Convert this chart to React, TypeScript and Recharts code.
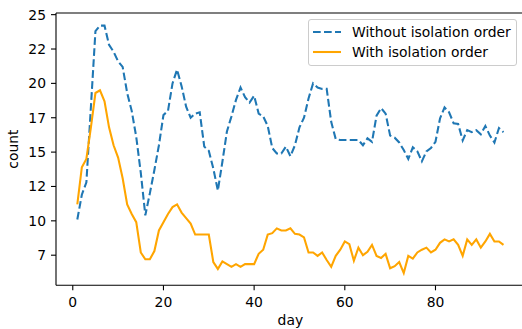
import React from 'react';
import { LineChart, Line, XAxis, YAxis, Legend, Label, ReferenceLine } from 'recharts';

const days = [
  1, 2, 3, 4, 5, 6, 7, 8, 9, 10, 11, 12, 13, 14, 15, 16, 17, 18, 19, 20,
  21, 22, 23, 24, 25, 26, 27, 28, 29, 30, 31, 32, 33, 34, 35, 36, 37, 38, 39, 40,
  41, 42, 43, 44, 45, 46, 47, 48, 49, 50, 51, 52, 53, 54, 55, 56, 57, 58, 59, 60,
  61, 62, 63, 64, 65, 66, 67, 68, 69, 70, 71, 72, 73, 74, 75, 76, 77, 78, 79, 80,
  81, 82, 83, 84, 85, 86, 87, 88, 89, 90, 91, 92, 93, 94, 95,
];

const withoutOrder = [
  10.1, 11.9, 12.8, 18.3, 23.8, 24.2, 24.2, 22.8, 22.3, 21.6,
  21.2, 19.3, 18.0, 16.1, 13.5, 10.4, 12.0, 13.7, 15.5, 17.7,
  18.0, 20.0, 21.0, 19.8, 18.3, 17.5, 17.8, 17.9, 15.4, 15.1,
  13.8, 12.2, 14.3, 16.5, 17.6, 18.8, 19.7, 19.0, 18.6, 19.1,
  17.8, 17.6, 16.9, 15.3, 14.9, 14.9, 15.4, 14.7, 15.5, 16.8,
  17.5, 18.9, 20.0, 19.7, 19.6, 19.6, 17.2, 15.95, 15.88, 15.88,
  15.88, 15.88, 15.88, 15.5, 16.0, 15.75, 17.65, 18.2, 17.8, 16.2,
  16.05, 15.7, 15.15, 14.5, 15.35, 15.05, 14.33, 15.05, 15.3, 15.75,
  17.45, 18.25, 17.9, 17.1, 17.05, 15.85, 16.6, 16.45, 16.6, 16.3,
  16.9, 16.2, 15.7, 16.75, 16.45,
];

const withOrder = [
  11.2, 13.9, 14.5, 16.8, 19.3, 19.5, 18.7, 16.8, 15.5, 14.6,
  13.1, 11.2, 10.5, 9.9, 7.7, 7.2, 7.2, 7.8, 9.3, 9.9,
  10.5, 11.0, 11.2, 10.6, 10.2, 9.8, 9.0, 9.0, 9.0, 9.0,
  7.0, 6.5, 7.05, 6.85, 6.65, 6.85, 6.65, 6.85, 6.85, 6.85,
  7.6, 7.9, 9.0, 9.1, 9.45, 9.3, 9.3, 9.45, 9.05, 9.0,
  8.8, 7.7, 7.7, 7.45, 7.7, 7.15, 6.65, 7.45, 7.9, 8.5,
  8.3, 7.1, 8.05, 7.5, 7.75, 8.25, 7.45, 7.3, 7.6, 6.55,
  6.7, 7.0, 6.2, 7.45, 7.25, 7.7, 7.9, 8.05, 7.7, 7.9,
  8.4, 8.65, 8.5, 8.65, 8.25, 7.45, 8.65, 8.25, 8.65, 8.05,
  8.5, 9.05, 8.5, 8.5, 8.25,
];

const seriesNames = ['Without isolation order', 'With isolation order'];
const xTicks = [0, 20, 40, 60, 80];
const yTicks = [7.5, 10, 12.5, 15, 17.5, 20, 22.5, 25];
const xDomain: [number, number] = [-3.7, 99.7];
const yDomain: [number, number] = [5.31, 25.12];

const data = days.map((d, i) => ({ day: d, without: withoutOrder[i], with: withOrder[i] }));

const FONT = '"DejaVu Sans", sans-serif';
const FS = 13.9;
const BLUE = '#1f77b4';
const ORANGE = '#ffa500';
const DASH = '7.7 3.3';

const dashByName: Record<string, string | undefined> = {
  [seriesNames[0]]: DASH,
  [seriesNames[1]]: undefined,
};

const LegendBox = (props: any) => {
  const payload = [...(props.payload || [])].sort(
    (a: any, b: any) => seriesNames.indexOf(a.value) - seriesNames.indexOf(b.value)
  );
  return (
    <div
      style={{
        boxSizing: 'border-box',
        width: 209.6,
        height: 46.7,
        border: '1px solid #cccccc',
        borderRadius: 3,
        background: 'rgba(255,255,255,0.8)',
        padding: '4px 4px 4px 4px',
        fontFamily: FONT,
        fontSize: FS,
        color: '#000',
      }}
    >
      {payload.map((entry: any, i: number) => (
        <div
          key={i}
          style={{
            display: 'flex',
            alignItems: 'center',
            height: 16,
            marginTop: i === 0 ? 0 : 4,
            whiteSpace: 'nowrap',
          }}
        >
          <svg width={28.3} height={16} style={{ display: 'block', flex: 'none' }}>
            <line
              x1={0}
              y1={8}
              x2={28.3}
              y2={8}
              stroke={entry.color}
              strokeWidth={2.08}
              strokeDasharray={dashByName[entry.value]}
            />
          </svg>
          <span style={{ marginLeft: 11, lineHeight: '16px' }}>{entry.value}</span>
        </div>
      ))}
    </div>
  );
};

export default function App() {
  return (
    <div
      style={{
        position: 'absolute',
        left: 0,
        top: 0,
        width: 522,
        height: 329,
        overflow: 'hidden',
        background: '#fff',
        fontFamily: FONT,
      }}
    >
      <LineChart
        width={540}
        height={329}
        data={data}
        margin={{ top: 13, right: 15.2, bottom: 0, left: 0 }}
      >
        <XAxis
          dataKey="day"
          type="number"
          domain={xDomain}
          allowDataOverflow
          ticks={xTicks}
          height={43.7}
          tickSize={5}
          tickMargin={7}
          axisLine={{ stroke: '#000', strokeWidth: 1.1 }}
          tickLine={{ stroke: '#000', strokeWidth: 1.1 }}
          tick={{ fill: '#000', fontSize: FS, fontFamily: FONT }}
        >
          <Label
            value="day"
            position="insideBottom"
            offset={4}
            style={{ fill: '#000', fontSize: FS, fontFamily: FONT }}
          />
        </XAxis>
        <YAxis
          type="number"
          domain={yDomain}
          allowDataOverflow
          ticks={yTicks}
          width={56}
          tickSize={5}
          tickMargin={5}
          tickFormatter={(v: number) => String(Math.floor(v))}
          axisLine={{ stroke: '#000', strokeWidth: 1.1 }}
          tickLine={{ stroke: '#000', strokeWidth: 1.1 }}
          tick={{ fill: '#000', fontSize: FS, fontFamily: FONT }}
        >
          <Label
            content={(p: any) => {
              const vb = p.viewBox || { x: 0, y: 13, width: 56, height: 272.3 };
              const cx = vb.x + 18.5;
              const cy = vb.y + vb.height / 2;
              return (
                <text
                  x={cx}
                  y={cy}
                  transform={`rotate(-90 ${cx} ${cy})`}
                  textAnchor="middle"
                  fill="#000"
                  fontSize={FS}
                  fontFamily={FONT}
                >
                  count
                </text>
              );
            }}
          />
        </YAxis>
        <ReferenceLine y={yDomain[1]} stroke="#000" strokeWidth={1.1} ifOverflow="visible" />
        <Legend
          layout="vertical"
          align="center"
          verticalAlign="middle"
          content={<LegendBox />}
          wrapperStyle={{ left: 307.7, top: 19.3, width: 209.6, height: 46.7, right: 'auto', bottom: 'auto' }}
        />
        <Line
          dataKey="without"
          name={seriesNames[0]}
          stroke={BLUE}
          strokeWidth={2.08}
          strokeDasharray={DASH}
          dot={false}
          activeDot={false}
          type="linear"
          isAnimationActive={false}
        />
        <Line
          dataKey="with"
          name={seriesNames[1]}
          stroke={ORANGE}
          strokeWidth={2.08}
          dot={false}
          activeDot={false}
          type="linear"
          isAnimationActive={false}
        />
      </LineChart>
    </div>
  );
}
